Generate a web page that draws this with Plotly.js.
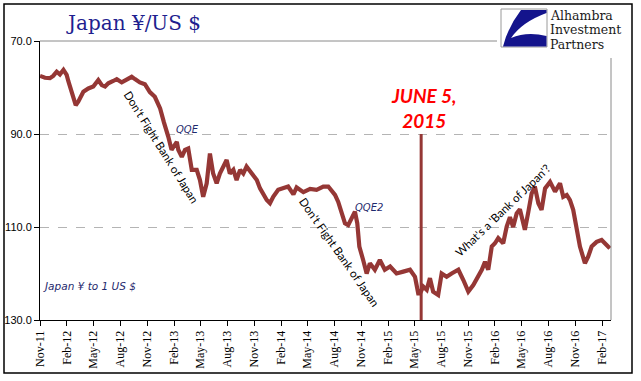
<!DOCTYPE html>
<html>
<head>
<meta charset="utf-8">
<script src="https://cdn.plot.ly/plotly-3.0.1.min.js"></script>
<style>
  html, body { margin: 0; padding: 0; background: #ffffff; }
  #chart { width: 641px; height: 381px; }
</style>
</head>
<body>
<div id="chart"></div>
<script>
// ---------------- DATA ----------------
const dates = [
  '2011-11-01','2011-11-18','2011-12-05','2011-12-16','2011-12-28','2012-01-08','2012-01-20','2012-01-31',
  '2012-02-06','2012-02-17','2012-03-02','2012-03-11','2012-03-28','2012-04-14','2012-05-01','2012-05-18',
  '2012-05-30','2012-06-10','2012-06-21','2012-07-08','2012-07-20','2012-08-06','2012-08-23','2012-09-09',
  '2012-09-20','2012-10-07','2012-10-24','2012-11-10','2012-11-27','2012-12-15','2012-12-28','2013-01-06',
  '2013-01-12','2013-01-23','2013-02-04','2013-02-10','2013-02-15','2013-02-27','2013-03-10','2013-03-21',
  '2013-04-02','2013-04-19','2013-04-30','2013-05-11','2013-05-23','2013-06-03','2013-06-14','2013-06-26',
  '2013-07-07','2013-07-30','2013-08-10','2013-08-22','2013-09-02','2013-09-14','2013-09-25','2013-10-06',
  '2013-10-24','2013-11-10','2013-11-21','2013-12-14','2013-12-25','2014-01-05','2014-01-22','2014-02-08',
  '2014-02-25','2014-03-15','2014-03-26','2014-04-18','2014-05-11','2014-06-02','2014-06-25','2014-07-12',
  '2014-07-24','2014-08-04','2014-08-15','2014-08-27','2014-09-07','2014-09-18','2014-09-30','2014-10-11',
  '2014-10-19','2014-10-26','2014-11-08','2014-11-20','2014-12-01','2014-12-18','2015-01-04','2015-01-21',
  '2015-02-08','2015-03-02','2015-03-25','2015-04-17','2015-05-04','2015-05-15','2015-05-21','2015-06-01',
  '2015-06-13','2015-06-24','2015-07-05','2015-07-22','2015-08-03','2015-08-20','2015-09-06','2015-09-29',
  '2015-10-16','2015-11-02','2015-11-19','2015-12-06','2015-12-18','2015-12-29','2016-01-09','2016-01-21',
  '2016-02-01','2016-02-12','2016-02-29','2016-03-12','2016-03-23','2016-04-03','2016-04-15','2016-04-26',
  '2016-05-02','2016-05-13','2016-05-25','2016-06-05','2016-06-16','2016-06-28','2016-07-09','2016-07-21',
  '2016-08-07','2016-08-24','2016-09-10','2016-09-21','2016-10-03','2016-10-14','2016-10-25','2016-11-06',
  '2016-11-17','2016-12-04','2016-12-15','2016-12-27','2017-01-13','2017-01-30','2017-02-10','2017-02-27'
];
const yenPerDollar = [
  77.5, 77.9, 78.0, 77.5, 76.6, 77.2, 76.2, 77.3,
  78.7, 80.9, 83.8, 83.0, 80.9, 80.2, 79.8, 78.4,
  79.5, 79.8, 79.1, 78.6, 78.2, 78.9, 78.2, 77.7,
  78.2, 78.9, 79.3, 81.0, 82.0, 84.5, 87.5, 89.9,
  90.6, 93.4, 92.0, 91.7, 93.4, 94.9, 93.4, 93.1,
  97.7, 97.7, 99.9, 103.5, 100.6, 94.2, 98.5, 100.6,
  98.5, 95.6, 98.5, 97.7, 99.9, 97.7, 98.5, 97.0,
  98.5, 99.9, 101.7, 104.2, 104.9, 103.5, 102.0, 101.7,
  101.3, 103.0, 101.5, 102.5, 101.8, 102.0, 101.3, 101.3,
  102.4, 103.1, 104.6, 106.7, 109.2, 109.6, 107.8, 106.7,
  109.2, 114.2, 117.1, 120.0, 117.8, 119.2, 117.1, 119.2,
  118.5, 120.0, 119.6, 119.2, 120.7, 124.3, 124.3, 122.8,
  123.5, 121.0, 123.9, 124.6, 120.0, 120.7, 120.0, 119.2,
  121.4, 123.9, 122.5, 120.7, 119.2, 117.5, 119.2, 114.2,
  113.5, 112.4, 113.5, 109.9, 107.9, 110.0, 107.1, 106.2,
  107.8, 110.6, 106.7, 102.8, 101.3, 104.9, 106.3, 101.7,
  100.3, 102.4, 100.6, 103.5, 103.1, 104.2, 106.3, 111.0,
  114.2, 117.8, 116.4, 114.2, 113.2, 112.8, 113.5, 114.6
];
const xTickDates = [
  '2011-11-01','2012-02-01','2012-05-01','2012-08-01','2012-11-01','2013-02-01','2013-05-01',
  '2013-08-01','2013-11-01','2014-02-01','2014-05-01','2014-08-01','2014-11-01','2015-02-01',
  '2015-05-01','2015-08-01','2015-11-01','2016-02-01','2016-05-01','2016-08-01','2016-11-01','2017-02-01'
];
const yTickValues = [70, 90, 110, 130];
const eventDate = '2015-05-25';
const eventLabel = 'JUNE 5,<br>2015';
const chartTitle = 'Japan ¥/US $';
const seriesNote = 'Japan ¥ to 1 US $';
const noteQQE = 'QQE';
const noteQQE2 = 'QQE2';
const noteFight = "Don't Fight Bank of Japan";
const noteWhat = "What's a 'Bank of Japan'?";
const logoLines = ['Alhambra', 'Investment', 'Partners'];

// ---------------- LAYOUT HELPERS ----------------
const W = 641, H = 381;
const M = {l: 40, r: 30, t: 41, b: 61};
const PW = W - M.l - M.r, PH = H - M.t - M.b;
const px = x => (x - M.l) / PW;          // pixel -> paper x
const py = y => (H - M.b - y) / PH;      // pixel -> paper y
function pathPx(cmds) {                  // pixel path -> paper path
  return cmds.map(c => {
    if (typeof c === 'string') return c;
    return px(c[0]).toFixed(5) + ',' + py(c[1]).toFixed(5);
  }).join(' ');
}

const lineColor = '#953735';
const navy = '#1f2a6e';

const trace = {
  type: 'scatter', mode: 'lines',
  x: dates, y: yenPerDollar,
  line: {color: lineColor, width: 4.2},
  hoverinfo: 'skip'
};

const shapes = [
  // outer frame
  {type: 'rect', xref: 'paper', yref: 'paper', x0: px(4), x1: px(632), y0: py(373), y1: py(4),
   line: {color: '#000000', width: 1.5}, fillcolor: 'rgba(0,0,0,0)', layer: 'above'},
  // top border of plot (gray), stops at logo
  {type: 'line', xref: 'paper', yref: 'paper', x0: 0, x1: px(497), y0: 1, y1: 1,
   line: {color: '#8a8a8a', width: 1}},
  // right border of plot (gray)
  {type: 'line', xref: 'paper', yref: 'paper', x0: 1, x1: 1, y0: 0, y1: py(58),
   line: {color: '#8a8a8a', width: 1}},
  // event line
  {type: 'line', xref: 'x', yref: 'y', x0: eventDate, x1: eventDate, y0: 90, y1: 130,
   line: {color: lineColor, width: 3}, layer: 'above'},
  // logo box
  {type: 'rect', xref: 'paper', yref: 'paper', x0: px(501), x1: px(547), y0: py(47), y1: py(9),
   line: {color: '#9a9a9a', width: 1}, fillcolor: '#ffffff'},
  // logo swoosh
  {type: 'path', xref: 'paper', yref: 'paper',
   path: pathPx(['M', [521, 10], 'L', [546.5, 10], 'L', [546.5, 13], 'Q', [522, 22], [511, 38],
                 'Q', [527, 31], [546.5, 36], 'L', [546.5, 46.5], 'L', [503, 46.5],
                 'Q', [508, 27], [521, 10], 'Z']),
   line: {width: 0}, fillcolor: '#14148c'}
];

const ann = (o) => Object.assign({xref: 'paper', yref: 'paper', showarrow: false, borderpad: 0}, o);

const annotations = [
  ann({x: px(423), y: py(108), text: '<b><i>' + eventLabel + '</i></b>',
       font: {family: 'Lato, "Open Sans", sans-serif', size: 19, color: '#ff0000'},
       xanchor: 'center', yanchor: 'middle'}),
  ann({x: px(187), y: py(129), text: '<i>' + noteQQE + '</i>',
       font: {family: '"DejaVu Sans", sans-serif', size: 10, color: navy}, xanchor: 'center', yanchor: 'middle'}),
  ann({x: px(369), y: py(207.5), text: '<i>' + noteQQE2 + '</i>',
       font: {family: '"DejaVu Sans", sans-serif', size: 10, color: navy}, xanchor: 'center', yanchor: 'middle'}),
  ann({x: px(42), y: py(286), text: '<i>' + seriesNote + '</i>',
       font: {family: '"DejaVu Sans", sans-serif', size: 10.5, color: navy}, xanchor: 'left', yanchor: 'middle'}),
  ann({x: px(162), y: py(147), text: noteFight, textangle: 58,
       font: {family: 'Lato, sans-serif', size: 11.5, color: '#000000'}, xanchor: 'center', yanchor: 'middle'}),
  ann({x: px(340), y: py(252), text: noteFight, textangle: 55,
       font: {family: 'Lato, sans-serif', size: 11.5, color: '#000000'}, xanchor: 'center', yanchor: 'middle'}),
  ann({x: px(502), y: py(210), text: noteWhat, textangle: -44,
       font: {family: 'Lato, sans-serif', size: 11.5, color: '#000000'}, xanchor: 'center', yanchor: 'middle'})
];
logoLines.forEach((t, i) => {
  annotations.push(ann({x: px(549), y: py([15.2, 29.9, 44.6][i]), text: t,
    font: {family: '"DejaVu Serif", serif', size: 12.5, color: '#1a1a1a'},
    xanchor: 'left', yanchor: 'middle'}));
});

const layout = {
  width: W, height: H,
  margin: {l: M.l, r: M.r, t: M.t, b: M.b, pad: 0},
  paper_bgcolor: '#ffffff', plot_bgcolor: '#ffffff',
  showlegend: false,
  title: {text: chartTitle, xref: 'container', yref: 'container',
          x: 68 / W, xanchor: 'left', y: 1 - 23 / H, yanchor: 'middle',
          font: {family: '"DejaVu Serif", serif', size: 20, color: '#1f1f8f'}},
  xaxis: {
    type: 'date', range: ['2011-11-01', '2017-03-03'],
    tickmode: 'array', tickvals: xTickDates, tickformat: '%b-%y', tickangle: -90,
    ticks: 'outside', ticklen: 5, tickcolor: '#000000', tickwidth: 1,
    showline: true, linecolor: '#000000', linewidth: 1, mirror: false,
    showgrid: false, zeroline: false,
    tickfont: {family: '"Liberation Serif", serif', size: 12, color: '#000000'}
  },
  yaxis: {
    range: [130, 70], tickmode: 'array', tickvals: yTickValues, tickformat: '.1f',
    ticks: 'outside', ticklen: 5, tickcolor: '#000000', tickwidth: 1,
    showline: true, linecolor: '#000000', linewidth: 1,
    showgrid: true, gridcolor: '#b4b4b4', gridwidth: 1, griddash: 'dash', zeroline: false,
    tickfont: {family: '"Liberation Sans Narrow", "Liberation Sans", sans-serif', size: 11, color: '#000000'}
  },
  shapes: shapes,
  annotations: annotations
};

Plotly.newPlot('chart', [trace], layout, {staticPlot: true, displayModeBar: false});
</script>
</body>
</html>
